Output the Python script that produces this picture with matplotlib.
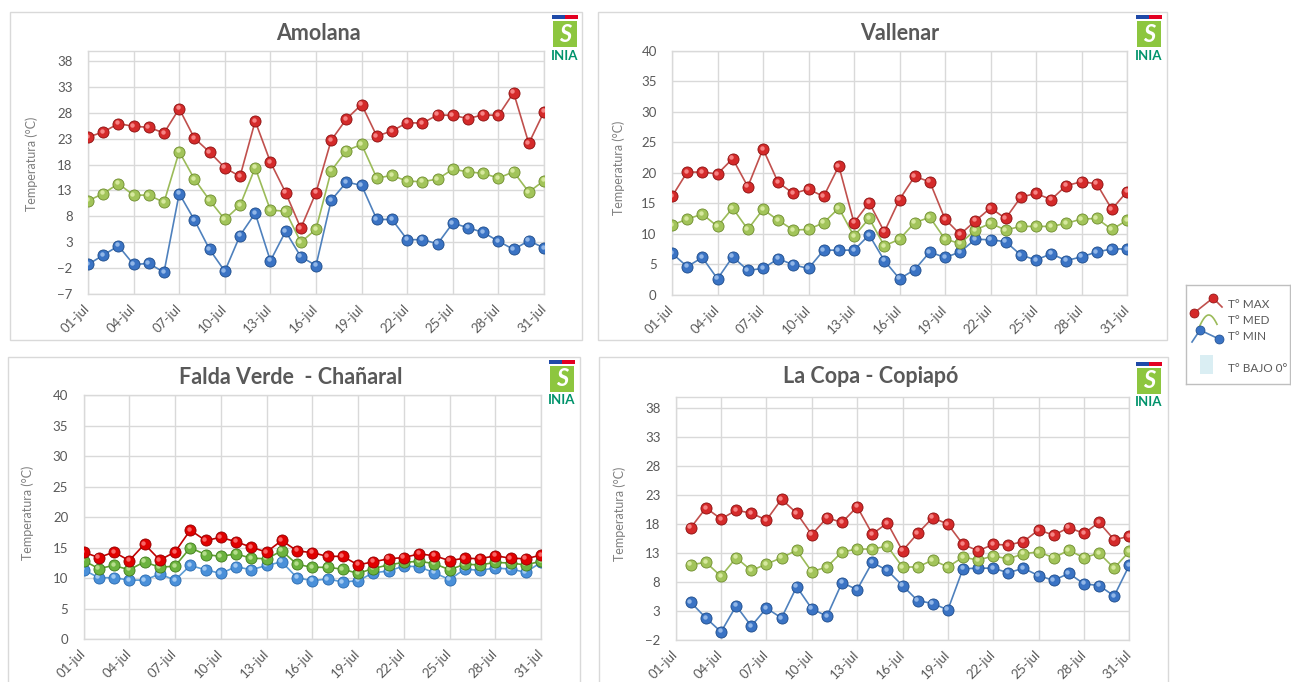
import matplotlib
matplotlib.use("Agg")
import matplotlib.pyplot as plt
from matplotlib.patches import Rectangle
from matplotlib.transforms import offset_copy
import numpy as np

plt.rcParams['font.family'] = ['Lato', 'DejaVu Sans']

# ---------------- data ----------------
days = list(range(1, 32))
day_labels = ["%02d-jul" % d for d in days]
tick_days = days[::3]
lacopa_days = days[1:]

amolana_max = [23.3, 24.3, 25.9, 25.4, 25.2, 24.1, 28.8, 23.1, 20.4, 17.4, 15.7, 26.4, 18.5, 12.6, 5.7, 12.6,
               22.7, 26.8, 29.6, 23.5, 24.5, 26.1, 26.0, 27.6, 27.5, 26.9, 27.6, 27.5, 31.9, 22.1, 28.2]
amolana_med = [11.0, 12.4, 14.3, 12.1, 12.1, 10.7, 20.5, 15.2, 11.1, 7.4, 10.1, 17.4, 9.2, 9.0, 3.0, 5.5,
               16.8, 20.7, 21.9, 15.4, 15.9, 14.8, 14.7, 15.2, 17.1, 16.6, 16.3, 15.4, 16.6, 12.7, 14.9]
amolana_min = [-1.3, 0.5, 2.3, -1.3, -1.1, -2.8, 12.4, 7.3, 1.6, -2.6, 4.3, 8.6, -0.6, 5.1, 0.2, -1.5,
               11.1, 14.6, 14.0, 7.4, 7.4, 3.5, 3.5, 2.7, 6.7, 5.8, 4.9, 3.2, 1.6, 3.3, 1.9]

vallenar_max = [16.1, 20.1, 20.1, 19.8, 22.3, 17.7, 23.9, 18.4, 16.6, 17.3, 16.1, 21.1, 11.8, 15.1, 10.3, 15.6,
                19.4, 18.5, 12.4, 9.9, 12.1, 14.2, 12.5, 16.0, 16.6, 15.6, 17.9, 18.5, 18.2, 14.0, 16.9]
vallenar_med = [11.4, 12.4, 13.2, 11.2, 14.2, 10.7, 14.0, 12.2, 10.6, 10.7, 11.8, 14.2, 9.6, 12.5, 8.0, 9.1,
                11.8, 12.7, 9.1, 8.4, 10.6, 11.7, 10.6, 11.2, 11.2, 11.2, 11.7, 12.4, 12.5, 10.7, 12.2]
vallenar_min = [6.8, 4.6, 6.1, 2.6, 6.2, 4.0, 4.3, 5.9, 4.9, 4.3, 7.3, 7.3, 7.3, 9.8, 5.6, 2.6,
                4.1, 7.0, 6.1, 7.0, 9.1, 9.0, 8.7, 6.5, 5.7, 6.7, 5.6, 6.2, 7.0, 7.5, 7.5]

falda_max = [14.3, 13.4, 14.3, 12.9, 15.6, 13.0, 14.3, 17.9, 16.2, 16.7, 16.0, 15.1, 14.3, 16.2, 14.5, 14.2,
             13.6, 13.6, 12.2, 12.7, 13.2, 13.4, 14.0, 13.7, 12.9, 13.3, 13.2, 13.7, 13.3, 13.2, 13.8]
falda_med = [12.9, 11.6, 12.1, 11.4, 12.7, 11.8, 12.0, 15.0, 13.9, 13.6, 14.0, 13.3, 13.2, 14.5, 12.3, 11.8,
             11.8, 11.5, 10.8, 11.6, 12.2, 12.6, 12.8, 12.4, 11.4, 12.3, 12.2, 12.6, 12.5, 12.2, 12.8]
falda_min = [11.4, 10.1, 10.1, 9.7, 9.7, 10.7, 9.7, 12.1, 11.4, 10.8, 11.9, 11.4, 12.1, 12.7, 10.1, 9.6,
             9.9, 9.4, 9.6, 10.9, 11.2, 12.0, 11.9, 10.9, 9.8, 11.5, 11.3, 11.7, 11.5, 11.0, 12.6]

lacopa_max = [17.4, 20.8, 18.9, 20.4, 19.9, 18.7, 22.3, 19.9, 16.2, 19.1, 18.3, 21.0, 16.3, 18.2, 13.4,
              16.4, 19.1, 18.0, 14.5, 13.4, 14.5, 14.4, 15.0, 17.0, 16.1, 17.4, 16.4, 18.3, 15.3, 15.9]
lacopa_med = [11.0, 11.4, 9.0, 12.2, 10.0, 11.1, 12.2, 13.5, 9.8, 10.6, 13.2, 13.7, 13.7, 14.2, 10.6,
              10.6, 11.8, 10.6, 12.3, 11.8, 12.5, 12.0, 12.9, 13.2, 12.2, 13.5, 12.2, 13.0, 10.4, 13.3]
lacopa_min = [4.5, 1.8, -0.6, 3.9, 0.4, 3.5, 1.8, 7.2, 3.4, 2.1, 7.9, 6.7, 11.4, 10.0, 7.4,
              4.8, 4.3, 3.2, 10.3, 10.4, 10.4, 9.6, 10.4, 9.1, 8.3, 9.5, 7.7, 7.4, 5.6, 10.9]

titles = ["Amolana", "Vallenar", "Falda Verde  - Chañaral", "La Copa - Copiapó"]
legend_labels = ["T° MAX", "T° MED", "T° MIN", "T° BAJO 0°"]
ylabel = "Temperatura (°C)"

# ---------------- figure ----------------
W, H = 1291, 682
fig = plt.figure(figsize=(W / 100, H / 100), dpi=100)
fig.patch.set_facecolor('white')


def fx(x):
    return x / W


def fy(y):
    return 1 - y / H


def add_frame(x0, y0, x1, y1):
    fig.add_artist(Rectangle((fx(x0), fy(y1)), (x1 - x0) / W, (y1 - y0) / H,
                             transform=fig.transFigure, fill=False,
                             ec='#D9D9D9', lw=1.0))


def logo(cx, ytop):
    fig.add_artist(Rectangle((fx(cx - 13), fy(ytop + 4)), 13 / W, 4 / H,
                             transform=fig.transFigure, color='#1F4AA8', lw=0))
    fig.add_artist(Rectangle((fx(cx), fy(ytop + 4)), 13 / W, 4 / H,
                             transform=fig.transFigure, color='#E30022', lw=0))
    fig.add_artist(Rectangle((fx(cx - 12), fy(ytop + 32)), 24 / W, 26 / H,
                             transform=fig.transFigure, color='#8DC63F', lw=0))
    fig.text(fx(cx), fy(ytop + 19), 'S', color='white', fontsize=17,
             fontweight='bold', style='italic', ha='center', va='center')
    fig.text(fx(cx), fy(ytop + 40.5), 'INIA', color='#00936B', fontsize=9.5,
             fontweight='bold', ha='center', va='center')


STYLE_A = dict(max=('#C0504D', '#D42A2A', '#8A1010', '#FF9A9A'),
               med=('#9BBB59', '#A2C45A', '#6E8C2E', '#E4F2B0'),
               min=('#4F81BD', '#3A73C4', '#1E4C8A', '#A8C8F0'))
STYLE_B = dict(max=('#C00000', '#E00000', '#900000', '#FF8080'),
               med=('#5FA030', '#6CB33F', '#3E7A1A', '#C8E8A0'),
               min=('#5B9BD5', '#4A90D9', '#2A6AAE', '#B8D8F8'))


def series(ax, x, y, sty, z):
    line, face, edge, hi = sty
    ax.plot(x, y, color=line, lw=1.2, zorder=z)
    ax.plot(x, y, ls='none', marker='o', ms=8.0, mfc=face, mec=edge, mew=0.6, zorder=z + 0.1)
    tr = offset_copy(ax.transData, fig=fig, x=-1.4, y=1.4, units='dots')
    ax.plot(x, y, ls='none', marker='o', ms=3.2, mfc=hi, mec='none', alpha=0.8,
            zorder=z + 0.2, transform=tr)


def panel(frame, plot, title, title_xy, ylab_xy, x, tmax, tmed, tmin, ylim, yticks, sty, logo_xy):
    add_frame(*frame)
    x0, y0, x1, y1 = plot
    ax = fig.add_axes([fx(x0), fy(y1), (x1 - x0) / W, (y1 - y0) / H])
    ax.set_xlim(days[0], days[-1])
    ax.set_ylim(*ylim)
    ax.set_yticks(yticks)
    ax.set_xticks(tick_days)
    ax.set_xticklabels([day_labels[d - 1] for d in tick_days], rotation=45,
                       ha='right', va='center', rotation_mode='anchor')
    ax.tick_params(length=0, labelsize=9.5, colors='#595959')
    ax.tick_params(axis='y', pad=11)
    ax.tick_params(axis='x', pad=9)
    ax.grid(True, color='#D9D9D9', lw=1.0)
    ax.set_axisbelow(True)
    for s in ax.spines.values():
        s.set_color('#D9D9D9')
        s.set_linewidth(1.0)
    series(ax, x, tmin, sty['min'], 3)
    series(ax, x, tmed, sty['med'], 4)
    series(ax, x, tmax, sty['max'], 5)
    fig.text(fx(title_xy[0]), fy(title_xy[1]), title, fontsize=15.5, fontweight='bold',
             color='#595959', ha='center', va='center')
    fig.text(fx(ylab_xy[0]), fy(ylab_xy[1]), ylabel, fontsize=9, color='#7F7F7F',
             rotation=90, ha='center', va='center')
    logo(*logo_xy)
    return ax


yt_a = list(range(-7, 39, 5))
yt_v = list(range(0, 41, 5))
yt_c = list(range(-2, 39, 5))

panel((10, 12, 582, 340), (88, 50.7, 544, 294), titles[0], (318, 33), (32, 164),
      days, amolana_max, amolana_med, amolana_min, (-7, 40), yt_a, STYLE_A, (565, 15))
panel((598, 12, 1167, 340), (672, 50.7, 1127, 294.7), titles[1], (900, 33), (619, 168),
      days, vallenar_max, vallenar_med, vallenar_min, (0, 40), yt_v, STYLE_A, (1149, 15))
panel((8, 357, 580, 700), (83.5, 395.3, 541, 639.3), titles[2], (291, 378), (28, 513),
      days, falda_max, falda_med, falda_min, (0, 40), yt_v, STYLE_B, (562, 360))
panel((599, 357, 1168, 700), (675.7, 396.7, 1129.3, 640), titles[3], (871, 377), (620, 514),
      lacopa_days, lacopa_max, lacopa_med, lacopa_min, (-2, 40), yt_c, STYLE_A, (1149, 362))

# ---------------- legend (decorative key) ----------------
lx0, ly0, lx1, ly1 = 1186, 285, 1290, 384
lg = fig.add_axes([fx(lx0), fy(ly1), (lx1 - lx0) / W, (ly1 - ly0) / H])
lg.set_xlim(lx0, lx1)
lg.set_ylim(ly1, ly0)
lg.set_xticks([])
lg.set_yticks([])
for s in lg.spines.values():
    s.set_color('#BFBFBF')
    s.set_linewidth(1.0)
# MAX icon
lg.plot([1194, 1213, 1222], [313, 298, 307], color='#C0504D', lw=1.2)
lg.plot([1194, 1213], [313, 298], ls='none', marker='o', ms=6.5, mfc='#D42A2A', mec='#8A1010', mew=0.5)
# MED icon
t = np.linspace(0, 1, 30)
lg.plot(1197 + 20 * t, 332 - 17 * np.sin(np.pi * t * 0.85), color='#9BBB59', lw=1.2)
# MIN icon
lg.plot([1192, 1200, 1219, 1222], [342, 330, 339, 342], color='#4F81BD', lw=1.2)
lg.plot([1200, 1219], [330, 339], ls='none', marker='o', ms=6.5, mfc='#3A73C4', mec='#1E4C8A', mew=0.5)
# below-zero patch
lg.add_patch(Rectangle((1200, 355), 13, 19, color='#DAEEF3', lw=0))
for lab, yy in zip(legend_labels, [304, 321, 336, 369]):
    lg.text(1228, yy, lab, fontsize=8.5, color='#595959', ha='left', va='center')

fig.savefig('out.png', dpi=100, facecolor='white')
